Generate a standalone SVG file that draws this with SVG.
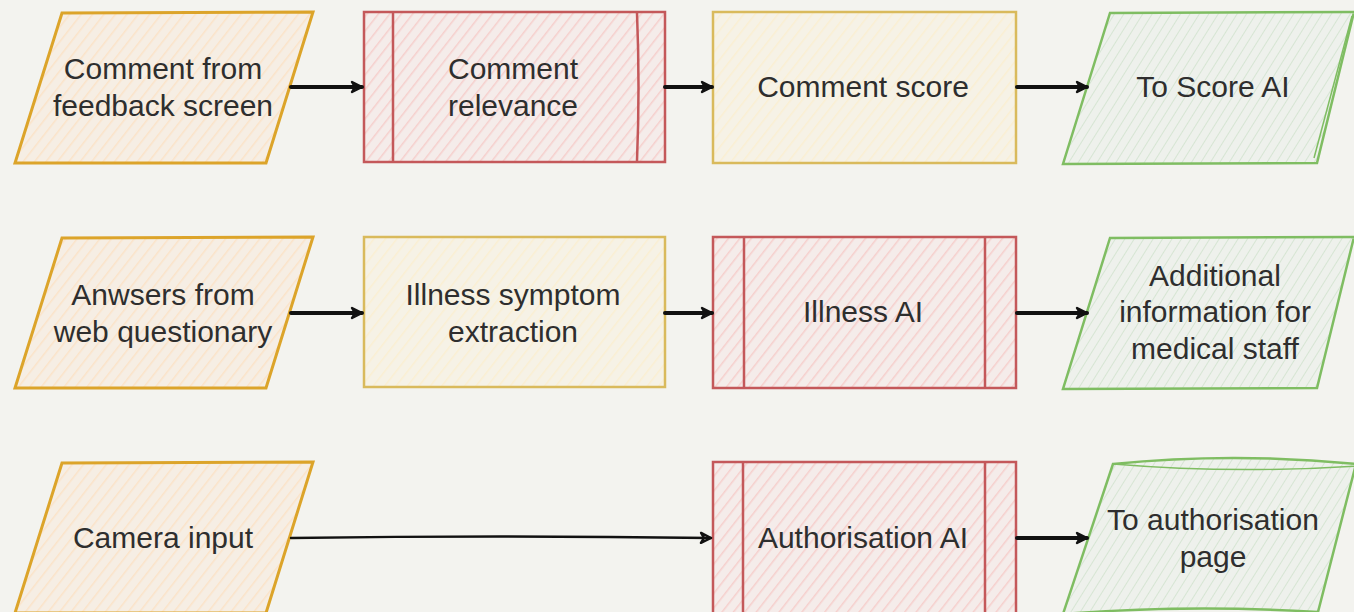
<svg xmlns="http://www.w3.org/2000/svg" width="1354" height="612" viewBox="0 0 1354 612">
<defs>
<pattern id="hO" patternUnits="userSpaceOnUse" width="9" height="9" patternTransform="rotate(38)"><rect width="9" height="9" fill="#f6eee4"/><line x1="0" y1="0" x2="0" y2="9" stroke="#fbe3c8" stroke-width="3"/></pattern>
<pattern id="hR" patternUnits="userSpaceOnUse" width="9" height="9" patternTransform="rotate(38)"><rect width="9" height="9" fill="#f5ecea"/><line x1="0" y1="0" x2="0" y2="9" stroke="#f6cfcc" stroke-width="3"/></pattern>
<pattern id="hY" patternUnits="userSpaceOnUse" width="9" height="9" patternTransform="rotate(38)"><rect width="9" height="9" fill="#f6f2e6"/><line x1="0" y1="0" x2="0" y2="9" stroke="#faefd2" stroke-width="3"/></pattern>
<pattern id="hG" patternUnits="userSpaceOnUse" width="8" height="8" patternTransform="rotate(32)"><rect width="8" height="8" fill="#eef1ec"/><line x1="0" y1="0" x2="0" y2="8" stroke="#d6e5d3" stroke-width="2"/></pattern>
<marker id="arr" viewBox="0 0 14 14" refX="12" refY="7" markerWidth="14" markerHeight="14" markerUnits="userSpaceOnUse" orient="auto">
<path d="M2,2 L12,7 L2,12 L5,7 Z" fill="none" stroke="#111" stroke-width="2.4" stroke-linejoin="round"/>
</marker>
</defs>
<style>
.o{fill:url(#hO);stroke:#dca42a;stroke-width:3}
.r{fill:url(#hR);stroke:#c4585a;stroke-width:2.5}
.y{fill:url(#hY);stroke:#d9ba5c;stroke-width:2.5}
.g{fill:url(#hG);stroke:#7fbd62;stroke-width:2.5}
.rl{fill:none;stroke:#c4585a;stroke-width:2.5}
.gl{fill:none;stroke:#7fbd62;stroke-width:1.5}
.t{font-family:"Liberation Sans",Arial,sans-serif;font-size:30px;fill:#2e2e2e;text-anchor:middle}
.c{fill:none;stroke:#111;stroke-width:4;stroke-linecap:round;marker-end:url(#arr)}
</style>
<rect width="1354" height="612" fill="#f3f3ef"/>

<g id="n1">
<path class="o" d="M62,13 L313,12 L266,163 L15,163 Z"/>
<text class="t" x="163" y="79">Comment from</text>
<text class="t" x="163" y="116">feedback screen</text>
</g>
<g id="n2">
<rect class="r" x="364" y="12" width="301" height="150"/>
<path class="rl" d="M393,13 L393,161 M637,13 Q640,87 637,161"/>
<text class="t" x="513" y="79">Comment</text>
<text class="t" x="513" y="116">relevance</text>
</g>
<g id="n3">
<rect class="y" x="713" y="12" width="303" height="151"/>
<text class="t" x="863" y="97">Comment score</text>
</g>
<g id="n4">
<path class="g" d="M1110,13 L1354,12 L1317,163 L1063,164 Z"/>
<path class="gl" d="M1352,16 L1314,158"/>
<text class="t" x="1213" y="97">To Score AI</text>
</g>

<g id="n5">
<path class="o" d="M62,238 L313,237 L266,388 L15,388 Z"/>
<text class="t" x="163" y="305">Anwsers from</text>
<text class="t" x="163" y="342">web questionary</text>
</g>
<g id="n6">
<rect class="y" x="364" y="237" width="301" height="150"/>
<text class="t" x="513" y="305">Illness symptom</text>
<text class="t" x="513" y="342">extraction</text>
</g>
<g id="n7">
<rect class="r" x="713" y="237" width="303" height="151"/>
<path class="rl" d="M744,238 L744,387 M985,238 L985,387"/>
<text class="t" x="863" y="322">Illness AI</text>
</g>
<g id="n8">
<path class="g" d="M1110,238 L1354,237 L1317,388 L1063,389 Z"/>
<text class="t" x="1215" y="286">Additional</text>
<text class="t" x="1215" y="322">information for</text>
<text class="t" x="1215" y="359">medical staff</text>
</g>

<g id="n9">
<path class="o" d="M62,463 L313,462 L266,613 L15,613 Z"/>
<text class="t" x="163" y="548">Camera input</text>
</g>
<g id="n10">
<rect class="r" x="713" y="462" width="303" height="152"/>
<path class="rl" d="M743,463 L743,612 M985,463 L985,612"/>
<text class="t" x="863" y="548">Authorisation AI</text>
</g>
<g id="n11">
<path class="g" d="M1113,464 Q1233,452 1356,464 L1318,612 Q1190,604 1063,614 Z"/>
<path class="gl" d="M1113,464 Q1233,474 1356,466"/>
<text class="t" x="1213" y="530">To authorisation</text>
<text class="t" x="1213" y="567">page</text>
</g>

<g id="connectors">
<path class="c" d="M291,87 L362,87"/>
<path class="c" d="M665,87 L712,87"/>
<path class="c" d="M1017,87 L1087,87"/>
<path class="c" d="M291,313 L362,313"/>
<path class="c" d="M665,313 L712,313"/>
<path class="c" d="M1017,313 L1087,313"/>
<path class="c" style="stroke-width:2.5" d="M291,538 Q500,535 711,538"/>
<path class="c" d="M1017,538 L1087,538"/>
</g>
</svg>
